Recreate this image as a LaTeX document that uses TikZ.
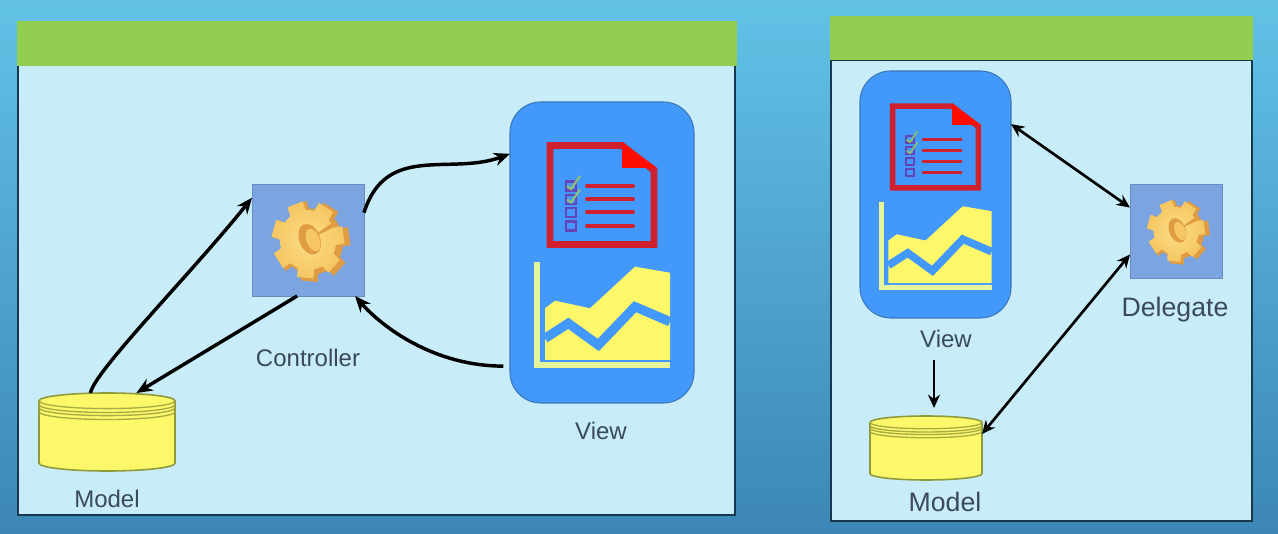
\documentclass[tikz,border=0pt]{standalone}
\usepackage{fontspec}
\setmainfont{Liberation Sans}
\usetikzlibrary{arrows.meta,calc}
\definecolor{skytop}{HTML}{62C2E6}
\definecolor{skymid}{HTML}{4FA6D2}
\definecolor{skybot}{HTML}{3C86B6}
\definecolor{panelfill}{HTML}{C9ECF9}
\definecolor{paneledge}{HTML}{17384F}
\definecolor{barfill}{HTML}{92CF50}
\definecolor{viewfill}{HTML}{4298FB}
\definecolor{viewedge}{HTML}{3A78B8}
\definecolor{formred}{HTML}{D0202E}
\definecolor{chartyellow}{HTML}{FDF76A}
\definecolor{axisyellow}{HTML}{E6F59A}
\definecolor{gearbg}{HTML}{7BA4E0}
\definecolor{gearlight}{HTML}{FBDD85}
\definecolor{gearmain}{HTML}{F5C662}
\definecolor{geardark}{HTML}{E09C42}
\definecolor{dbedge}{HTML}{8F9A3A}
\definecolor{labelgray}{HTML}{3A4A58}
\tikzset{
  panel/.style={draw=paneledge, line width=1.6pt, fill=panelfill},
  titlebar/.style={fill=barfill},
  viewbox/.style={draw=viewedge, line width=0.8pt, fill=viewfill, rectangle, rounded corners=23pt, outer sep=0pt},
  gearbox/.style={draw=gearbg!85!black, line width=0.6pt, fill=gearbg, rectangle, outer sep=0pt},
  dbbox/.style={rectangle, inner sep=0pt, outer sep=0pt},
  link/.style={-{Stealth[length=12pt,width=10pt]}, line width=2.6pt, draw=black},
  biglink/.style={{Stealth[length=10pt,width=9pt]}-{Stealth[length=10pt,width=9pt]}, line width=2pt, draw=black},
  tag/.style={text=labelgray, font=\fontsize{18}{20}\selectfont, inner sep=0pt},
  bigtag/.style={text=labelgray, font=\fontsize{20}{22}\selectfont, inner sep=0pt},
  pics/viewicon/.style={code={
    \begin{scope}[scale=#1]
      % form sheet
      \draw[formred, line width=5pt*#1, miter limit=10] (-52,-107) -- (20,-107) -- (52,-82) -- (52,-8) -- (-52,-8) -- cycle;
      \fill[red!90!orange] (20,-110.5) -- (55,-84.5) -- (20,-84.5) -- cycle;
      \foreach \yy in {-66.5,-53,-40,-26.5} {
        \draw[formred, line width=3pt*#1, line cap=round] (-15,\yy) -- (31,\yy);
        \draw[violet!55!viewfill, line width=1.8pt*#1] (-36,\yy-4.5) rectangle (-26,\yy+4.5);
      }
      \foreach \yy in {-66.5,-53}
        \draw[teal!45!chartyellow, line width=1.6pt*#1] (-35,\yy) -- (-31,\yy+3) -- (-22,\yy-10);
      % area chart
      \fill[chartyellow] (-57,107.5) -- (-57,55.8) -- (-47,48.2) -- (-12,55.8) -- (33,14.2) -- (68,20.2) -- (68,107.5) -- cycle;
      \draw[viewfill, line width=7pt*#1] (-57,85.8) -- (-33.7,70.8) -- (-3.7,92.5) -- (33,54.2) -- (68,69.2);
      \draw[axisyellow, line width=4.5pt*#1] (-65.3,9.2) -- (-65.3,113) -- (68,113);
    \end{scope}
  }},
  pics/gearicon/.style={code={
    \begin{scope}[scale=#1, rotate=8, xscale=.94]
      \fill[geardark] (4,2) circle [radius=33]
        (4,2) \foreach \aa in {0,...,6} {
          -- ($(4,2)+(\aa*51.43-17:30)$) -- ($(4,2)+(\aa*51.43-13:41)$) -- ($(4,2)+(\aa*51.43+13:41)$) -- ($(4,2)+(\aa*51.43+17:30)$)
        } -- cycle;
      \shade[inner color=gearlight, outer color=gearmain] (0,0)
        \foreach \aa in {0,...,6} {
          -- (\aa*51.43-17:30) -- (\aa*51.43-13:39) -- (\aa*51.43+13:39) -- (\aa*51.43+17:30)
          -- (\aa*51.43+25:30)
        } -- cycle;
      \fill[geardark, rotate=15] (2,0) ellipse [x radius=11, y radius=16];
      \fill[gearmain, rotate=15] (5,2) ellipse [x radius=7, y radius=12];
    \end{scope}
  }}
}
\newcommand{\database}[4]{
  \node[dbbox, minimum width=#3*.75pt, minimum height=#4*.75pt] (#1) at (#2) {};
  \begin{scope}[shift={(#2)}, xscale=#3/2, yscale=#4/2]
    \draw[dbedge, line width=1.2pt, fill=chartyellow] (-1,-.8) arc [start angle=180, end angle=360, x radius=1, y radius=.2]
      -- (1,.8) arc [start angle=0, end angle=180, x radius=1, y radius=.2] -- cycle;
    \foreach \bb in {-.8,-.7,-.62,-.52}
      \draw[dbedge!80!chartyellow, line width=1pt] (-1,\bb) arc [start angle=180, end angle=0, x radius=1, y radius=.2];
  \end{scope}
}

\begin{document}
\begin{tikzpicture}[x=0.75pt, y=-0.75pt]
  \useasboundingbox (0,0) rectangle (1278,534);
  \shade[top color=skytop, middle color=skymid, bottom color=skybot] (0,0) rectangle (1278,534);

  % left panel
  \draw[panel] (18,65) rectangle (735,515);
  \fill[titlebar] (17,21) rectangle (737,66);
  \node[viewbox, minimum width=138pt, minimum height=225.75pt] (view) at (602,252.5) {};
  \pic at (602,252.5) {viewicon=1};
  \node[gearbox, minimum size=84pt] (ctrl) at (308,240) {};
  \pic at (308,240) {gearicon=1};
  \database{model}{107,432}{136}{78}
  \node[tag] (ctrltag) at (308,358) {Controller};
  \node[tag] (viewtag) at (601,431) {View};
  \node[tag] (modeltag) at (107,499) {Model};

  \draw[link] (model.113) .. controls +(4,-22) and +(-60,75) .. (ctrl.143);
  \draw[link] (ctrl.259) -- (model.53);
  \draw[link] (ctrl.26) .. controls +(22,-70) and +(-60,22) .. (view.133);
  \draw[link, shorten <=5pt] (view.231) .. controls +(-75,0) and +(28,32) .. (ctrl.310);

  % right panel
  \draw[panel] (831,60) rectangle (1252,521);
  \fill[titlebar] (830,16) rectangle (1253,60);
  \node[viewbox, minimum width=113.25pt, minimum height=185.25pt] (view2) at (935.5,194.5) {};
  \pic at (935.5,194.5) {viewicon=.825};
  \node[gearbox, minimum width=69pt, minimum height=70.5pt] (dele) at (1176,231) {};
  \pic at (1176,231) {gearicon=.8};
  \database{model2}{926,448}{112}{64}
  \node[tag] (viewtag2) at (946,339) {View};
  \node[bigtag] (deletag) at (1175,310) {Delegate};
  \node[bigtag] (modeltag2) at (945,502) {Model};
  \coordinate (vm1) at (934,360);
  \coordinate (vm2) at (934,408);

  \draw[biglink] (view2.43) -- (dele.153);
  \draw[biglink] (dele.207) -- (model2.14);
  \draw[-{Stealth[length=10pt,width=9pt]}, line width=2pt] (vm1) -- (vm2);
\end{tikzpicture}
\end{document}
